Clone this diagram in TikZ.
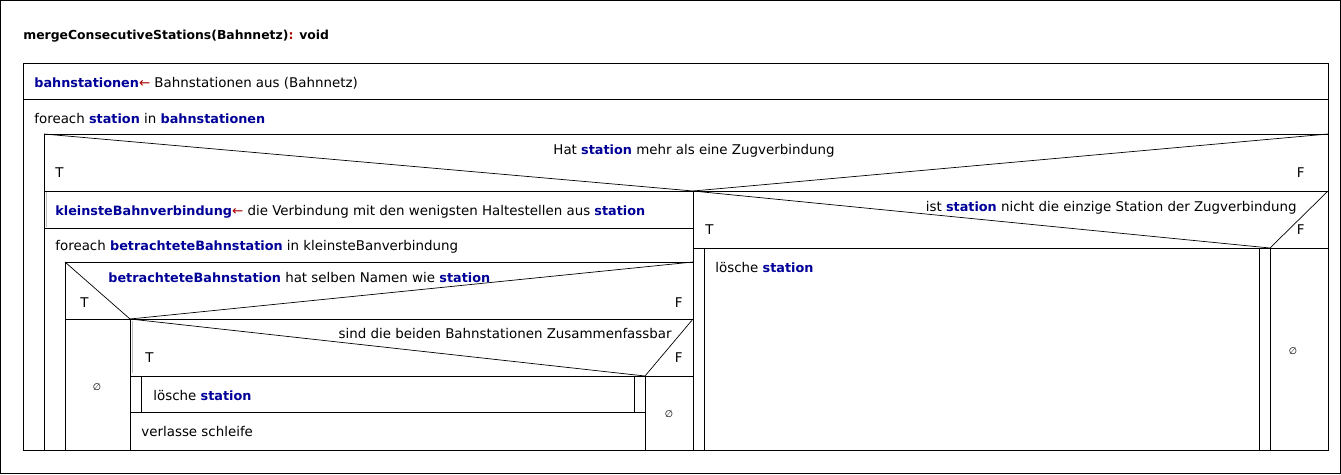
\documentclass[tikz,border=0pt]{standalone}
\usepackage{fontspec}
\setmainfont{DejaVu Sans}
\definecolor{vb}{RGB}{0,0,153}
\definecolor{ar}{RGB}{170,0,0}
\definecolor{selgray}{RGB}{190,190,190}
\newcommand\vn[1]{{\fontsize{12.8}{15}\selectfont\bfseries\color{vb}#1}}
\newcommand\asg{{\color{ar}←}}
\begin{document}
\begin{tikzpicture}[x=1pt,y=-1pt, line width=0.8pt,
  t/.style={anchor=mid west, inner sep=0pt, font=\fontsize{13.4}{16}\selectfont},
  tr/.style={t, anchor=mid east},
  tc/.style={t, anchor=mid},
  empty/.style={anchor=mid, inner sep=0pt, font=\fontsize{9.5}{10}\selectfont},
  diag/.style={line width=0.7pt},
  sel/.style={selgray, line width=1.6pt}]
\useasboundingbox (0,0) rectangle (1341,474);
\draw[line width=0.6pt] (0.5,0.5) rectangle (1340.5,473.5);
\node[t, font=\fontsize{12.4}{15}\selectfont\bfseries] (title) at (23,37) {mergeConsecutiveStations(Bahnnetz){\color{ar}:} void};
% main block
\draw (23,63) rectangle (1328,450);
\draw (23,99) -- (1328,99);
\node[t] (s1) at (34,85) {\vn{bahnstationen}\asg{} Bahnstationen aus (Bahnnetz)};
\node[t] (loop1) at (34,121) {foreach \vn{station} in \vn{bahnstationen}};
% outer loop body
\draw (44,134) -- (1328,134);
\draw (44,134) -- (44,450);
% if 1
\draw[diag] (44,134) -- (693,191) -- (1328,134);
\draw (44,191) -- (1328,191);
\draw (693,191) -- (693,450);
\node[tc] (if1) at (694,152) {Hat \vn{station} mehr als eine Zugverbindung};
\node[t] (if1t) at (55,175) {T};
\node[tr] (if1f) at (1305,175) {F};
% left branch
\draw[sel] (46.5,192) -- (46.5,227);
\node[t] (s2) at (55,213) {\vn{kleinsteBahnverbindung}\asg{} die Verbindung mit den wenigsten Haltestellen aus \vn{station}};
\draw (44,228) -- (693,228);
\node[t] (loop2) at (55,248) {foreach \vn{betrachteteBahnstation} in kleinsteBanverbindung};
\draw (65,262) -- (693,262);
\draw (65,262) -- (65,450);
% if 2
\draw[diag] (65,262) -- (130,319) -- (693,262);
\draw (65,319) -- (693,319);
\draw (130,319) -- (130,450);
\node[t] (if2) at (108,280) {\vn{betrachteteBahnstation} hat selben Namen wie \vn{station}};
\node[t] (if2t) at (80,305) {T};
\node[tr] (if2f) at (683,305) {F};
\node[empty] (e1) at (97,388) {∅};
% if 3
\draw[diag] (130,319) -- (645,376) -- (693,319);
\draw (130,376) -- (693,376);
\draw (645,376) -- (645,450);
\draw[sel] (132.5,321) -- (132.5,373);
\node[tr] (if3) at (672,336) {sind die beiden Bahnstationen Zusammenfassbar};
\node[t] (if3t) at (145,360) {T};
\node[tr] (if3f) at (683,360) {F};
% call in if3 T
\draw (141,376) -- (141,412);
\draw (634,376) -- (634,412);
\draw (130,412) -- (645,412);
\node[t] (s3) at (153,398) {lösche \vn{station}};
\node[t] (s4) at (141,434) {verlasse schleife};
\node[empty] (e2) at (669,415) {∅};
% right branch: if 4
\draw[diag] (693,191) -- (1270,248) -- (1328,191);
\draw (693,248) -- (1328,248);
\draw (1270,248) -- (1270,450);
\node[tr] (if4) at (1297,209) {ist \vn{station} nicht die einzige Station der Zugverbindung};
\node[t] (if4t) at (705,232) {T};
\node[tr] (if4f) at (1305,232) {F};
\draw (704,248) -- (704,450);
\draw (1259,248) -- (1259,450);
\node[t] (s5) at (715,270) {lösche \vn{station}};
\node[empty] (e3) at (1293,352) {∅};
\end{tikzpicture}
\end{document}
